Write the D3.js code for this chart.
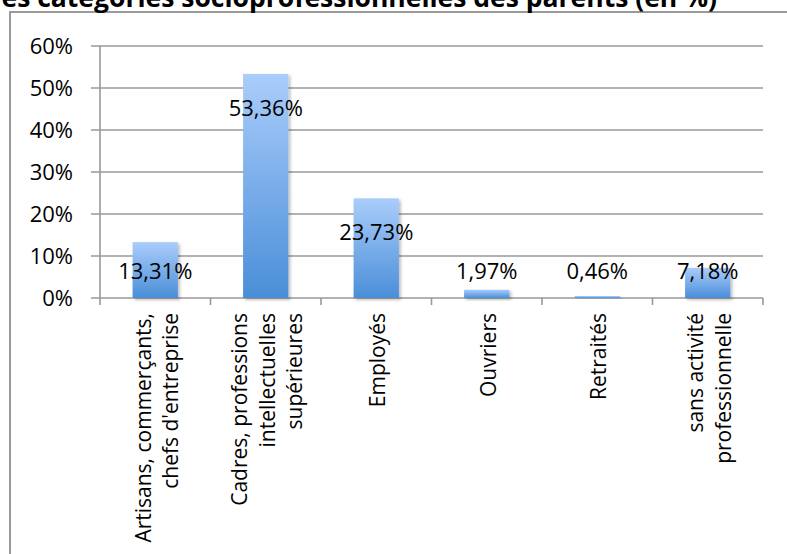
<!DOCTYPE html>
<html>
<head>
<meta charset="utf-8">
<script src="https://cdn.jsdelivr.net/npm/d3@7"></script>
<style>
  body { margin: 0; background: #fff; }
  svg { display: block; font-family: "Open Sans", sans-serif; }
</style>
</head>
<body>
<div id="viz"></div>
<script>
const width = 787;
const height = 554;
const margin = {top: 46, right: 24, bottom: 256, left: 100};

const titleText = "Répartition des catégories socioprofessionnelles des parents (en %)";
const categories = [
  ["Artisans, commerçants,", "chefs d'entreprise"],
  ["Cadres, professions", "intellectuelles", "supérieures"],
  ["Employés"],
  ["Ouvriers"],
  ["Retraités"],
  ["sans activité", "professionnelle"]
];
const values = [13.31, 53.36, 23.73, 1.97, 0.46, 7.18];
const yTicks = [0, 10, 20, 30, 40, 50, 60];

const svg = d3.select("#viz")
  .append("svg")
  .attr("width", width)
  .attr("height", height);

const defs = svg.append("defs");
const grad = defs.append("linearGradient")
  .attr("id", "barGrad")
  .attr("x1", 0).attr("y1", 0).attr("x2", 0).attr("y2", 1);
grad.append("stop").attr("offset", "0%").attr("stop-color", "#aacdfb");
grad.append("stop").attr("offset", "100%").attr("stop-color", "#4a8ed8");

const shadow = defs.append("filter").attr("id", "shadow")
  .attr("x", "-20%").attr("y", "-20%").attr("width", "150%").attr("height", "150%");
shadow.append("feDropShadow")
  .attr("dx", 2).attr("dy", 2).attr("stdDeviation", 1.5)
  .attr("flood-color", "#000").attr("flood-opacity", 0.25);

// chart frame (runs past the right and bottom edge)
svg.append("rect")
  .attr("x", 10).attr("y", 12)
  .attr("width", 800).attr("height", 600)
  .attr("fill", "none")
  .attr("stroke", "#9a9a9a")
  .attr("stroke-width", 2);

// title, clipped by the top of the window like the original
svg.append("text")
  .attr("x", 717).attr("y", 7)
  .attr("text-anchor", "end")
  .attr("font-weight", "bold")
  .attr("font-size", 26.5)
  .attr("fill", "#000")
  .text(titleText);

const x = d3.scaleBand()
  .domain(d3.range(values.length))
  .range([margin.left, width - margin.right])
  .paddingInner(0.59)
  .paddingOuter(0.295);

const xTicks = d3.scaleLinear()
  .domain([0, values.length])
  .range([margin.left, width - margin.right]);

const y = d3.scaleLinear()
  .domain([0, 60])
  .range([height - margin.bottom, margin.top]);

// gridlines
svg.append("g")
  .selectAll("line")
  .data(yTicks)
  .join("line")
    .attr("x1", margin.left - 9)
    .attr("x2", width - margin.right)
    .attr("y1", d => y(d))
    .attr("y2", d => y(d))
    .attr("stroke", "#999")
    .attr("stroke-width", 1.6);

// y axis line
svg.append("line")
  .attr("x1", margin.left).attr("x2", margin.left)
  .attr("y1", y(60)).attr("y2", y(0))
  .attr("stroke", "#999").attr("stroke-width", 1.6);

// y tick labels
svg.append("g")
  .selectAll("text")
  .data(yTicks)
  .join("text")
    .attr("x", 73)
    .attr("y", d => y(d) + 8)
    .attr("text-anchor", "end")
    .attr("font-size", 22)
    .attr("fill", "#000")
    .text(d => d + "%");

// x tick marks
svg.append("g")
  .selectAll("line")
  .data(d3.range(values.length + 1))
  .join("line")
    .attr("x1", d => xTicks(d))
    .attr("x2", d => xTicks(d))
    .attr("y1", y(0))
    .attr("y2", y(0) + 7)
    .attr("stroke", "#999")
    .attr("stroke-width", 1.6);

// bars
svg.append("g")
  .selectAll("rect")
  .data(values)
  .join("rect")
    .attr("x", (d, i) => x(i))
    .attr("y", d => y(d))
    .attr("width", x.bandwidth())
    .attr("height", d => y(0) - y(d))
    .attr("fill", "url(#barGrad)")
    .attr("filter", "url(#shadow)");

// value labels
svg.append("g")
  .selectAll("text")
  .data(values)
  .join("text")
    .attr("x", (d, i) => x(i) + x.bandwidth() / 2)
    .attr("y", d => Math.min(y(d) + 42, y(0) - 19))
    .attr("text-anchor", "middle")
    .attr("font-size", 22)
    .attr("fill", "#000")
    .text(d => d.toFixed(2).replace(".", ",") + "%");

// rotated category labels
const lineGap = 27.5;
const catG = svg.append("g")
  .selectAll("text")
  .data(categories)
  .join("text")
    .attr("transform", (d, i) => {
      const cx = x(i) + x.bandwidth() / 2 + 1;
      return "translate(" + cx + "," + (y(0) + 15) + ") rotate(-90)";
    })
    .attr("text-anchor", "end")
    .attr("font-size", 21)
    .attr("fill", "#000");

catG.selectAll("tspan")
  .data(d => d.map((t, j) => ({t, j, n: d.length})))
  .join("tspan")
    .attr("x", 0)
    .attr("y", d => (d.j - (d.n - 1) / 2) * lineGap + 8)
    .text(d => d.t);
</script>
</body>
</html>
